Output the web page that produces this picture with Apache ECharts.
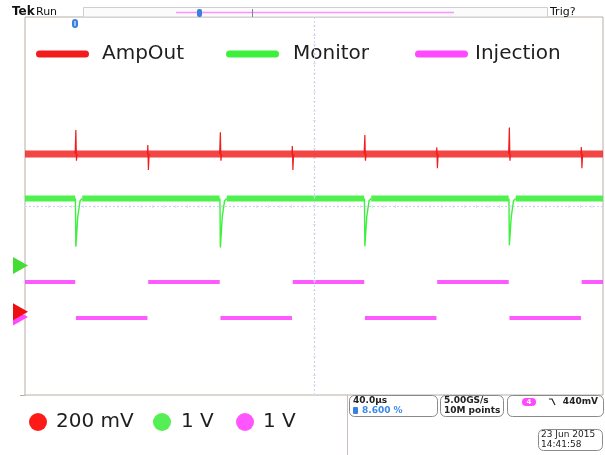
<!DOCTYPE html>
<html>
<head>
<meta charset="utf-8">
<script src="https://cdn.jsdelivr.net/npm/echarts@6/dist/echarts.min.js"></script>
<style>
html,body{margin:0;padding:0;background:#fff;}
#c{width:605px;height:455px;}
</style>
</head>
<body>
<div id="c"></div>
<script>
// ---- data (time in µs, vertical in graticule divisions) ----
const timeRange = [0, 400];            // 10 div x 40.0 µs
const vertRange = [-4, 4];             // 8 divisions
const seriesNames = ['AmpOut', 'Monitor', 'Injection'];
const scaleLabels = ['200 mV', '1 V', '1 V'];
const injFallEdges = [35, 135, 235, 335];
const injRiseEdges = [85, 185, 285, 385];
const injHigh = -1.61;
const injLow = -2.37;
const ampLevel = 1.10;
const ampBigPeaks = [1.61, 1.56, 1.50, 1.66];
const ampSmallUp = [1.29, 1.27, 1.24, 1.25];
const ampSmallDown = [0.76, 0.76, 0.80, 0.80];
const monLevel = 0.16;
const monDipMin = [-0.86, -0.88, -0.85, -0.83];
const monRecovery = [[1.5, -0.23], [3.1, 0.11], [4.6, 0.16]]; // [µs after edge, div]
const groundMarkers = [-1.26, -2.24, -2.35];  // Monitor, AmpOut, Injection offsets
const infoBoxes = {
  hor: ['40.0µs', '8.600 %'],
  acq: ['5.00GS/s', '10M points'],
  trig: ['4', '440mV'],
  date: ['23 Jun 2015', '14:41:58']
};

// ---- build series data ----
function injectionData() {
  const edges = injFallEdges.concat(injRiseEdges).sort((a, b) => a - b);
  const out = [];
  let t0 = timeRange[0], lvl = injHigh;
  edges.forEach(e => {
    out.push([t0, lvl], [e - 0.25, lvl], null);
    t0 = e + 0.25;
    lvl = (lvl === injHigh) ? injLow : injHigh;
  });
  out.push([t0, lvl], [timeRange[1], lvl]);
  return out;
}
function monitorBand() {
  const out = [];
  let t0 = timeRange[0];
  injFallEdges.forEach(e => {
    out.push([t0, monLevel], [e - 0.3, monLevel], null);
    t0 = e + 4.6;
  });
  out.push([t0, monLevel], [timeRange[1], monLevel]);
  return out;
}
function monitorDips() {
  const out = [];
  injFallEdges.forEach((e, i) => {
    out.push([e - 0.1, monLevel], [e + 0.2, monDipMin[i]]);
    monRecovery.forEach(p => out.push([e + p[0], p[1]]));
    out.push(null);
  });
  return out;
}
function ampSpikes() {
  const out = [];
  injFallEdges.forEach((e, i) => {
    out.push([e - 0.3, ampLevel], [e + 0.2, ampBigPeaks[i]], [e + 0.6, 0.96], [e + 1.0, ampLevel], null);
  });
  injRiseEdges.forEach((e, i) => {
    out.push([e - 0.3, ampLevel], [e, ampSmallUp[i]], [e + 0.4, ampSmallDown[i]], [e + 0.9, ampLevel], null);
  });
  return out;
}

const RED = '#f21c1c', GREEN = '#3cf03c', MAG = '#ff48ff';
const FONT = 'DejaVu Sans';

const chart = echarts.init(document.getElementById('c'), null, {renderer: 'canvas'});
const pillIcon = 'path://M3.5,0 H49.5 A3.5,3.5 0 0 1 49.5,7 H3.5 A3.5,3.5 0 0 1 3.5,0 Z';

function legendFor(name, left, pad) {
  return {
    data: [name], left: left, top: 44, padding: 0,
    icon: pillIcon, itemWidth: 53, itemHeight: 7,
    selectedMode: false,
    textStyle: {fontFamily: FONT, fontSize: 20, color: '#1e1e1e', padding: [0, 0, 0, pad]}
  };
}

chart.setOption({
  animation: false,
  backgroundColor: '#ffffff',
  grid: {left: 25, top: 17, width: 578, height: 378, show: true,
         borderColor: '#b8aea5', borderWidth: 1, backgroundColor: '#ffffff'},
  xAxis: {type: 'value', min: timeRange[0], max: timeRange[1], show: false},
  yAxis: {type: 'value', min: vertRange[0], max: vertRange[1], show: false},
  legend: [legendFor(seriesNames[0], 36, 8), legendFor(seriesNames[1], 226, 9), legendFor(seriesNames[2], 415, 2)],
  series: [
    {
      name: seriesNames[2], type: 'line', data: injectionData(), showSymbol: false, symbol: 'none',
      color: MAG, lineStyle: {color: MAG, width: 4, opacity: 0.9}, connectNulls: false, z: 3,
      markLine: {
        silent: true, symbol: 'none', label: {show: false}, animation: false,
        lineStyle: {color: '#cfcff2', width: 1, type: [2, 2]},
        data: [{xAxis: 200}, {yAxis: 0}]
      }
    },
    {
      name: 'InjTicks', type: 'line', data: [], showSymbol: false,
      markLine: {
        silent: true, symbol: 'none', label: {show: false}, animation: false,
        data: [
          {xAxis: 200, lineStyle: {color: '#dcdcf5', width: 3, type: [1, 8.45]}},
          {yAxis: 0, lineStyle: {color: '#dcdcf5', width: 3, type: [1, 10.56]}}
        ]
      }
    },
    {
      name: seriesNames[1], type: 'line', data: monitorBand(), showSymbol: false, symbol: 'none',
      color: GREEN, lineStyle: {color: GREEN, width: 6, opacity: 0.9}, connectNulls: false, z: 4
    },
    {
      name: 'MonitorDips', type: 'line', data: monitorDips(), showSymbol: false, symbol: 'none',
      color: GREEN, lineStyle: {color: GREEN, width: 1.4}, connectNulls: false, z: 4
    },
    {
      name: seriesNames[0], type: 'line', data: [[timeRange[0], ampLevel], [timeRange[1], ampLevel]],
      showSymbol: false, symbol: 'none',
      color: RED, lineStyle: {color: RED, width: 7, opacity: 0.82}, z: 5
    },
    {
      name: 'AmpSpikes', type: 'line', data: ampSpikes(), showSymbol: false, symbol: 'none',
      color: RED, lineStyle: {color: RED, width: 1.2}, connectNulls: false, z: 5
    }
  ]
});

// ---- decorations ----
const gm = groundMarkers.map(v => chart.convertToPixel({gridIndex: 0}, [0, v])[1]);
function tri(y, color, z) {
  return {type: 'polygon', z: z, shape: {points: [[13, y - 8.5], [28, y], [13, y + 8.5]]}, style: {fill: color}};
}
function txt(x, y, text, size, color, weight, align) {
  return {type: 'text', x: x, y: y, z: 10,
          style: {text: text, fontFamily: FONT, fontSize: size, fill: color || '#222',
                  fontWeight: weight || 'normal', align: align || 'left', verticalAlign: 'middle'}};
}
function box(x, y, w, h) {
  return {type: 'rect', z: 9, shape: {x: x, y: y, width: w, height: h, r: 5},
          style: {fill: '#ffffff', stroke: '#8a8a8a', lineWidth: 1}};
}
const g = [
  // header
  txt(12, 12, 'Tek', 12, '#111', 'bold'),
  txt(36, 12, 'Run', 11, '#111'),
  {type: 'rect', z: 9, shape: {x: 83.5, y: 7.5, width: 464, height: 9.5}, style: {fill: '#fbfbfb', stroke: '#cfcfcf', lineWidth: 1}},
  {type: 'line', z: 10, shape: {x1: 176, y1: 12.5, x2: 454, y2: 12.5}, style: {stroke: '#ff90ff', lineWidth: 1.5}},
  {type: 'line', z: 10, shape: {x1: 252.5, y1: 9, x2: 252.5, y2: 17}, style: {stroke: '#8080a0', lineWidth: 1}},
  {type: 'rect', z: 11, shape: {x: 197, y: 9, width: 5, height: 8, r: 2}, style: {fill: '#3a80e0'}},
  txt(550, 12, 'Trig?', 11, '#111'),
  // trigger position marker on graticule
  {type: 'rect', z: 11, shape: {x: 72, y: 19, width: 6, height: 9, r: 3}, style: {fill: '#3a80e0'}},
  {type: 'line', z: 12, shape: {x1: 75, y1: 21, x2: 75, y2: 26}, style: {stroke: '#ffffff', lineWidth: 1}},
  // ground markers
  tri(gm[2], MAG, 20),
  tri(gm[1], '#ee1010', 21),
  tri(gm[0], '#44dd33', 21),
  // bottom separator
  {type: 'line', z: 8, shape: {x1: 20, y1: 395.5, x2: 25, y2: 395.5}, style: {stroke: '#b8aea5', lineWidth: 1}},
  {type: 'line', z: 8, shape: {x1: 347.5, y1: 395, x2: 347.5, y2: 455}, style: {stroke: '#c8c0b8', lineWidth: 1}},
  // channel scale readouts
  {type: 'circle', z: 10, shape: {cx: 38, cy: 422, r: 9}, style: {fill: '#ff1a1a'}},
  txt(56, 422, scaleLabels[0], 20, '#1e1e1e'),
  {type: 'circle', z: 10, shape: {cx: 162, cy: 422, r: 9}, style: {fill: '#55ee55'}},
  txt(181, 422, scaleLabels[1], 20, '#1e1e1e'),
  {type: 'circle', z: 10, shape: {cx: 245, cy: 422, r: 9}, style: {fill: '#ff55ff'}},
  txt(263, 422, scaleLabels[2], 20, '#1e1e1e'),
  // info boxes
  box(349.5, 395.5, 88, 21),
  txt(353, 401, infoBoxes.hor[0], 9, '#222', 'bold'),
  {type: 'rect', z: 10, shape: {x: 353, y: 407, width: 5, height: 7, r: 1}, style: {fill: '#3a80e0'}},
  txt(362, 411, infoBoxes.hor[1], 9, '#3a88e8', 'bold'),
  box(440.5, 395.5, 63, 21),
  txt(444, 401, infoBoxes.acq[0], 9, '#222', 'bold'),
  txt(444, 411, infoBoxes.acq[1], 9, '#222', 'bold'),
  box(507.5, 395.5, 96, 21),
  {type: 'rect', z: 10, shape: {x: 522, y: 398, width: 14, height: 8, r: 4}, style: {fill: '#ff48ff'}},
  txt(529, 402.5, infoBoxes.trig[0], 7, '#ffffff', 'bold', 'center'),
  {type: 'polyline', z: 10, shape: {points: [[549, 399], [552, 399], [555, 405]]}, style: {stroke: '#222', lineWidth: 1.2, fill: null}},
  txt(598, 402, infoBoxes.trig[1], 9, '#222', 'bold', 'right'),
  box(538.5, 429.5, 64, 21),
  txt(541, 435, infoBoxes.date[0], 9, '#222'),
  txt(541, 445, infoBoxes.date[1], 9, '#222')
];
chart.setOption({graphic: g});
</script>
</body>
</html>
